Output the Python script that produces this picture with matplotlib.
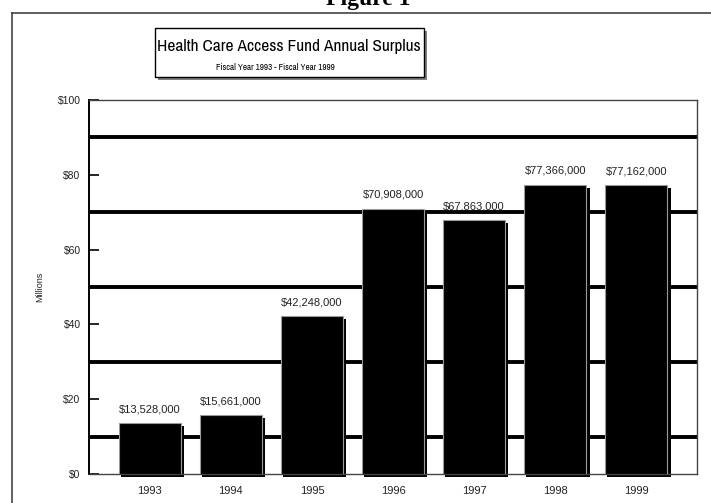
import matplotlib
matplotlib.use("Agg")
import matplotlib.pyplot as plt
import matplotlib.transforms as mtransforms
from matplotlib.patches import Rectangle
from matplotlib.lines import Line2D
from matplotlib import font_manager

years = ["1993", "1994", "1995", "1996", "1997", "1998", "1999"]
surplus = [13528000, 15661000, 42248000, 70908000, 67863000, 77366000, 77162000]
value_labels = ["$13,528,000", "$15,661,000", "$42,248,000", "$70,908,000",
                "$67,863,000", "$77,366,000", "$77,162,000"]
y_ticks = [0, 20, 40, 60, 80, 100]
y_tick_labels = ["$0", "$20", "$40", "$60", "$80", "$100"]
band_lines = [10, 30, 50, 70, 90]

W, H = 711, 503
plt.rcParams["font.family"] = ["Liberation Sans", "DejaVu Sans"]
fig = plt.figure(figsize=(W / 100, H / 100), dpi=100)

# narrow face for the title box if one is installed
condensed = [f for f in font_manager.fontManager.ttflist
             if "Condensed" in f.fname or "Narrow" in f.fname]
if any("Narrow" in f.name for f in condensed):
    title_font = dict(family=[next(f.name for f in condensed if "Narrow" in f.name)])
    title_size, sub_size = 12.5, 6.5
elif any("DejaVuSansCondensed" in f.fname for f in condensed):
    title_font = dict(family=["DejaVu Sans"], stretch="condensed")
    title_size, sub_size = 11.0, 5.8
else:
    title_font = dict(family=["Liberation Sans"])
    title_size, sub_size = 10.5, 5.4


def fx(px):
    return px / W


def fy(py):
    return 1 - py / H


# outer frame (top and left edges)
fig.add_artist(Line2D([fx(12), fx(711)], [fy(13), fy(13)], transform=fig.transFigure,
                      color="#333333", lw=1.1))
fig.add_artist(Line2D([fx(12), fx(12)], [fy(13), fy(503)], transform=fig.transFigure,
                      color="#333333", lw=1.1))

fig.text(fx(368), fy(5), "Figure 1", ha="center", va="baseline", fontsize=17,
         fontweight="bold", family=["Liberation Serif", "DejaVu Serif"])

# title box with drop shadow
bx0, by0, bx1, by1 = 155, 28, 424, 77
fig.add_artist(Rectangle((fx(bx0 + 3), fy(by1 + 3)), fx(bx1 - bx0), (by1 - by0) / H,
                         transform=fig.transFigure, facecolor="#808080", edgecolor="none"))
fig.add_artist(Rectangle((fx(bx0), fy(by1)), fx(bx1 - bx0), (by1 - by0) / H,
                         transform=fig.transFigure, facecolor="white", edgecolor="black", lw=1.0))
fig.text(fx(289), fy(46), "Health Care Access Fund Annual Surplus", ha="center", va="center",
         fontsize=title_size, **title_font)
fig.text(fx(275), fy(67), "Fiscal Year 1993 - Fiscal Year 1999", ha="center", va="center",
         fontsize=sub_size, **title_font)

# plotting area
ax = fig.add_axes([fx(89), fy(474), fx(697 - 89), (474 - 100) / H])
ax.set_xlim(-0.75, len(years) - 0.25)
ax.set_ylim(0, 100)

for yv in band_lines:
    ax.axhline(yv, color="black", lw=2.8, zorder=1)

x = list(range(len(years)))
vals_m = [v / 1e6 for v in surplus]
shadow = mtransforms.offset_copy(ax.transData, fig=fig, x=2.0, y=-2.2, units="points")
ax.bar(x, vals_m, width=0.78, color="black", edgecolor="none", transform=shadow,
       zorder=2, clip_on=False)
ax.bar(x, vals_m, width=0.77, color="black", edgecolor="#9a9a9a", lw=0.8, zorder=3)

for xi, v, lab in zip(x, vals_m, value_labels):
    ax.annotate(lab, (xi, v), xytext=(0, 10), textcoords="offset points", ha="center",
                va="center", fontsize=8, color="#222222", zorder=4)

ax.set_xticks(x)
ax.set_xticklabels(years)
ax.set_yticks(y_ticks)
ax.set_yticklabels(y_tick_labels)
ax.tick_params(axis="x", length=0, pad=9, labelsize=8, labelcolor="#222222")
ax.tick_params(axis="y", direction="in", length=7, width=1.2, pad=6, labelsize=7.5,
               labelcolor="#222222")
ax.set_ylabel("Millions", fontsize=6.5, labelpad=10, color="#222222")

ax.spines["left"].set_color("black")
ax.spines["left"].set_linewidth(1.4)
for s in ("top", "right", "bottom"):
    ax.spines[s].set_color("#444444")
    ax.spines[s].set_linewidth(1.0)

fig.savefig("out.png", dpi=100)
